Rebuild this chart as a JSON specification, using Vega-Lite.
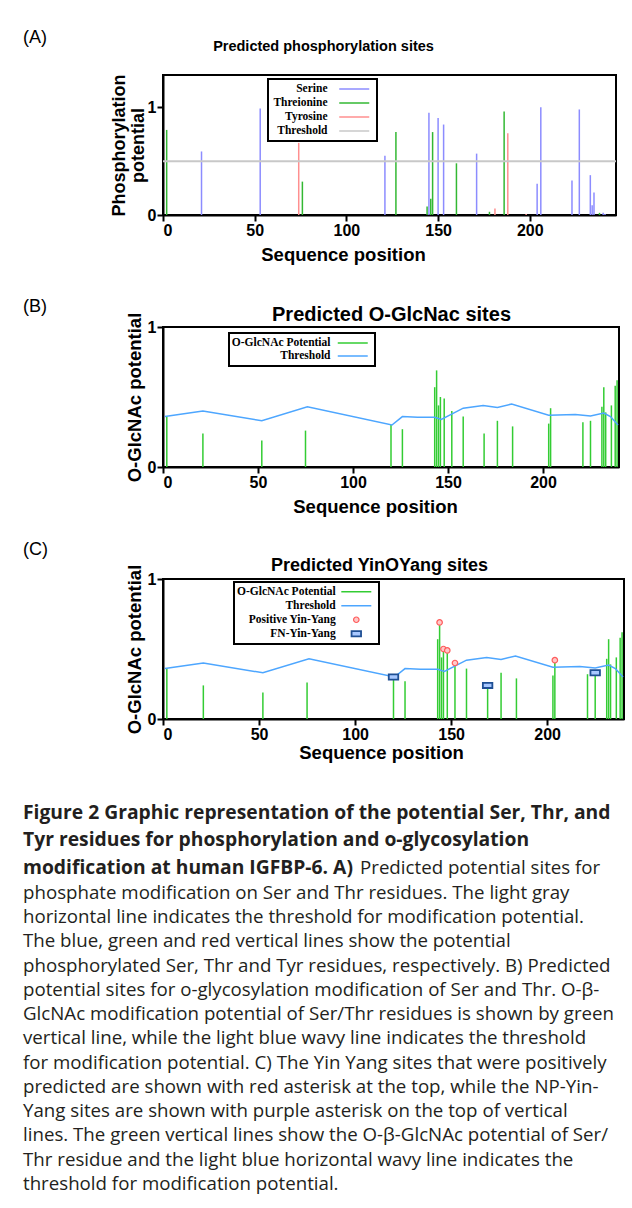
{
  "$schema": "https://vega.github.io/schema/vega-lite/v6.json",
  "background": "white",
  "padding": {"left": 22, "top": 28, "right": 4, "bottom": 4},
  "bounds": "flush",
  "spacing": 112,
  "resolve": {"scale": {"color": "independent"}, "legend": {"color": "independent"}},
  "config": {
    "font": "Liberation Sans",
    "view": {"stroke": "black", "strokeWidth": 2},
    "axis": {"grid": false, "domainColor": "black", "domainWidth": 2, "tickColor": "black", "tickWidth": 2, "tickSize": 6,
      "labelFont": "Liberation Sans", "labelFontWeight": "bold", "labelFontSize": 16, "labelColor": "black", "labelPadding": 1,
      "titleFont": "Liberation Sans", "titleFontWeight": "bold", "titleFontSize": 18.5, "titleColor": "black"},
    "title": {"font": "Liberation Sans", "fontSize": 18, "fontWeight": "normal", "color": "black", "anchor": "start", "frame": "group", "offset": 0},
    "legend": {"orient": "none", "title": null, "symbolType": "M-3,0H3", "symbolStrokeWidth": 1.5, "symbolSize": 100,
      "labelAlign": "right", "labelFont": "Liberation Serif", "labelFontWeight": "bold", "labelFontSize": 11.5, "labelColor": "black",
      "strokeColor": "black", "strokeWidth": 2, "fillColor": "white", "padding": 4, "rowPadding": 2, "labelLimit": 300}
  },
  "datasets": {
    "phos": [
      {"pos": 2, "potential": 0.79, "residue": "Threionine"},
      {"pos": 21, "potential": 0.59, "residue": "Serine"},
      {"pos": 53, "potential": 0.99, "residue": "Serine"},
      {"pos": 74, "potential": 0.67, "residue": "Tyrosine"},
      {"pos": 76, "potential": 0.31, "residue": "Threionine"},
      {"pos": 121, "potential": 0.55, "residue": "Serine"},
      {"pos": 127, "potential": 0.77, "residue": "Threionine"},
      {"pos": 144, "potential": 0.08, "residue": "Threionine"},
      {"pos": 145, "potential": 0.95, "residue": "Serine"},
      {"pos": 146, "potential": 0.15, "residue": "Threionine"},
      {"pos": 147, "potential": 0.77, "residue": "Threionine"},
      {"pos": 150, "potential": 0.90, "residue": "Serine"},
      {"pos": 153, "potential": 0.84, "residue": "Serine"},
      {"pos": 160, "potential": 0.48, "residue": "Threionine"},
      {"pos": 171, "potential": 0.57, "residue": "Serine"},
      {"pos": 178, "potential": 0.03, "residue": "Threionine"},
      {"pos": 181, "potential": 0.06, "residue": "Tyrosine"},
      {"pos": 186, "potential": 0.96, "residue": "Threionine"},
      {"pos": 188, "potential": 0.76, "residue": "Tyrosine"},
      {"pos": 198, "potential": 0.01, "residue": "Tyrosine"},
      {"pos": 204, "potential": 0.29, "residue": "Serine"},
      {"pos": 206, "potential": 1.0, "residue": "Serine"},
      {"pos": 223, "potential": 0.32, "residue": "Serine"},
      {"pos": 227, "potential": 0.98, "residue": "Serine"},
      {"pos": 233, "potential": 0.37, "residue": "Serine"},
      {"pos": 234, "potential": 0.09, "residue": "Serine"},
      {"pos": 235, "potential": 0.21, "residue": "Serine"},
      {"pos": 238, "potential": 0.02, "residue": "Threionine"},
      {"pos": 240, "potential": 0.02, "residue": "Serine"},
      {"pos": 241, "potential": 0.01, "residue": "Serine"}
    ],
    "glcnac": [
      {"pos": 2, "potential": 0.36}, {"pos": 21, "potential": 0.24}, {"pos": 52, "potential": 0.19},
      {"pos": 75, "potential": 0.26}, {"pos": 120, "potential": 0.30}, {"pos": 126, "potential": 0.27},
      {"pos": 143, "potential": 0.57}, {"pos": 144, "potential": 0.69}, {"pos": 145, "potential": 0.44},
      {"pos": 146, "potential": 0.50}, {"pos": 148, "potential": 0.49}, {"pos": 152, "potential": 0.40},
      {"pos": 158, "potential": 0.36}, {"pos": 169, "potential": 0.24}, {"pos": 176, "potential": 0.33},
      {"pos": 184, "potential": 0.29}, {"pos": 203, "potential": 0.31}, {"pos": 204, "potential": 0.42},
      {"pos": 221, "potential": 0.32}, {"pos": 225, "potential": 0.33}, {"pos": 231, "potential": 0.43},
      {"pos": 232, "potential": 0.57}, {"pos": 233, "potential": 0.39}, {"pos": 236, "potential": 0.44},
      {"pos": 238, "potential": 0.58}, {"pos": 239, "potential": 0.62}
    ],
    "threshold": [
      {"pos": 1, "potential": 0.36}, {"pos": 21, "potential": 0.40}, {"pos": 52, "potential": 0.33},
      {"pos": 76, "potential": 0.43}, {"pos": 120.5, "potential": 0.30}, {"pos": 126, "potential": 0.36},
      {"pos": 134, "potential": 0.355}, {"pos": 143, "potential": 0.355}, {"pos": 146.5, "potential": 0.34},
      {"pos": 158, "potential": 0.42}, {"pos": 168.5, "potential": 0.44}, {"pos": 176, "potential": 0.425},
      {"pos": 183.5, "potential": 0.45}, {"pos": 203, "potential": 0.37}, {"pos": 217, "potential": 0.375},
      {"pos": 225, "potential": 0.365}, {"pos": 232, "potential": 0.385}, {"pos": 235.5, "potential": 0.36},
      {"pos": 239.5, "potential": 0.30}
    ],
    "positive": [
      {"pos": 144, "potential": 0.69}, {"pos": 146, "potential": 0.50}, {"pos": 148, "potential": 0.49},
      {"pos": 152, "potential": 0.40}, {"pos": 204, "potential": 0.42}
    ],
    "fn": [
      {"pos": 120, "potential": 0.30}, {"pos": 169, "potential": 0.24}, {"pos": 225, "potential": 0.33}
    ],
    "caption": [
      {"line": 1, "part": "heading", "text": "Figure 2 Graphic representation of the potential Ser, Thr, and"},
      {"line": 2, "part": "heading", "text": "Tyr residues for phosphorylation and o-glycosylation"},
      {"line": 3, "part": "heading", "text": "modification at human IGFBP-6. A)"},
      {"line": 3, "part": "continued", "text": "Predicted potential sites for"},
      {"line": 4, "part": "body", "text": "phosphate modification on Ser and Thr residues. The light gray"},
      {"line": 5, "part": "body", "text": "horizontal line indicates the threshold for modification potential."},
      {"line": 6, "part": "body", "text": "The blue, green and red vertical lines show the potential"},
      {"line": 7, "part": "body", "text": "phosphorylated Ser, Thr and Tyr residues, respectively. B) Predicted"},
      {"line": 8, "part": "body", "text": "potential sites for o-glycosylation modification of Ser and Thr. O-β-"},
      {"line": 9, "part": "body", "text": "GlcNAc modification potential of Ser/Thr residues is shown by green"},
      {"line": 10, "part": "body", "text": "vertical line, while the light blue wavy line indicates the threshold"},
      {"line": 11, "part": "body", "text": "for modification potential. C) The Yin Yang sites that were positively"},
      {"line": 12, "part": "body", "text": "predicted are shown with red asterisk at the top, while the NP-Yin-"},
      {"line": 13, "part": "body", "text": "Yang sites are shown with purple asterisk on the top of vertical"},
      {"line": 14, "part": "body", "text": "lines. The green vertical lines show the O-β-GlcNAc potential of Ser/"},
      {"line": 15, "part": "body", "text": "Thr residue and the light blue horizontal wavy line indicates the"},
      {"line": 16, "part": "body", "text": "threshold for modification potential."}
    ]
  },
  "vconcat": [
    {
      "width": 453, "height": 140,
      "title": {"text": "(A)", "dx": -140, "dy": 13},
      "layer": [
        {
          "data": {"name": "phos"},
          "mark": {"type": "rule", "strokeWidth": 1.5},
          "encoding": {
            "x": {"field": "pos", "type": "quantitative", "scale": {"domain": [0, 247], "nice": false, "zero": false},
              "axis": {"orient": "bottom", "values": [0, 50, 100, 150, 200], "title": "Sequence position", "titlePadding": 7, "titleX": 180}},
            "y": {"field": "potential", "type": "quantitative", "scale": {"domain": [0, 1.3], "nice": false},
              "axis": {"values": [0, 1], "format": "d", "title": ["Phosphorylation", "potential"], "titleFontSize": 18, "titleLineHeight": 19, "titlePadding": 0}},
            "y2": {"datum": 0},
            "color": {"field": "residue", "type": "nominal",
              "scale": {"domain": ["Serine", "Threionine", "Tyrosine", "Threshold"], "range": ["#8c8cff", "#33b833", "#ff8f8f", "#c8c8c8"]},
              "legend": {"legendX": 105, "legendY": 4, "labelOffset": -32.75, "symbolOffset": 76.25,
                "encode": {"symbols": {"update": {"fill": {"value": "transparent"}, "strokeWidth": {"value": 1.5}}}}}}
          }
        },
        {
          "data": {"values": [{"residue": "Threshold", "potential": 0.5}]},
          "mark": {"type": "rule", "strokeWidth": 2},
          "encoding": {
            "y": {"field": "potential", "type": "quantitative"},
            "color": {"field": "residue", "type": "nominal"}
          }
        },
        {
          "data": {"values": [{"pos": 0}]},
          "mark": {"type": "rule", "opacity": 0},
          "encoding": {
            "x": {"field": "pos", "type": "quantitative",
              "axis": {"orient": "top", "domain": false, "ticks": false, "labels": false, "title": "Predicted phosphorylation sites", "titleFont": "Liberation Sans Narrow, Liberation Sans", "titleFontSize": 14.5, "titlePadding": 22, "titleX": 160}}
          }
        }
      ],
      "resolve": {"axis": {"x": "independent"}}
    },
    {
      "width": 456, "height": 140,
      "title": {"text": "(B)", "dx": -140, "dy": 16},
      "layer": [
        {
          "data": {"name": "glcnac"},
          "mark": {"type": "rule", "strokeWidth": 1.5},
          "encoding": {
            "x": {"field": "pos", "type": "quantitative", "scale": {"domain": [0, 240], "nice": false, "zero": false},
              "axis": {"orient": "bottom", "values": [0, 50, 100, 150, 200], "title": "Sequence position", "titlePadding": 7, "titleX": 212}},
            "y": {"field": "potential", "type": "quantitative", "scale": {"domain": [0, 1], "nice": false},
              "axis": {"values": [0, 1], "format": "d", "title": "O-GlcNAc potential", "titlePadding": 3}},
            "y2": {"datum": 0},
            "color": {"datum": "O-GlcNAc Potential",
              "scale": {"domain": ["O-GlcNAc Potential", "Threshold"], "range": ["#33cc33", "#4da6ff"]},
              "legend": {"legendX": 66, "legendY": 6, "labelOffset": -28.25, "symbolOffset": 113.75, "rowPadding": 1,
                "encode": {"symbols": {"update": {"fill": {"value": "transparent"}, "strokeWidth": {"value": 1.5}}}}}}
          }
        },
        {
          "data": {"name": "threshold"},
          "mark": {"type": "line", "strokeWidth": 1.5},
          "encoding": {
            "x": {"field": "pos", "type": "quantitative", "axis": null},
            "y": {"field": "potential", "type": "quantitative"},
            "color": {"datum": "Threshold"}
          }
        },
        {
          "data": {"values": [{"pos": 0}]},
          "mark": {"type": "rule", "opacity": 0},
          "encoding": {
            "x": {"field": "pos", "type": "quantitative",
              "axis": {"orient": "top", "domain": false, "ticks": false, "labels": false, "title": "Predicted O-GlcNac sites", "titleFontSize": 20, "titlePadding": 3}}
          }
        }
      ],
      "resolve": {"axis": {"x": "independent"}}
    },
    {
      "width": 461, "height": 140,
      "title": {"text": "(C)", "dx": -140, "dy": 7},
      "layer": [
        {
          "data": {"name": "glcnac"},
          "mark": {"type": "rule", "strokeWidth": 1.5},
          "encoding": {
            "x": {"field": "pos", "type": "quantitative", "scale": {"domain": [0, 240], "nice": false, "zero": false},
              "axis": {"orient": "bottom", "values": [0, 50, 100, 150, 200], "title": "Sequence position", "titlePadding": 1, "titleX": 218}},
            "y": {"field": "potential", "type": "quantitative", "scale": {"domain": [0, 1], "nice": false},
              "axis": {"values": [0, 1], "format": "d", "title": "O-GlcNAc potential", "titlePadding": 3}},
            "y2": {"datum": 0},
            "color": {"datum": "O-GlcNAc Potential",
              "scale": {"domain": ["O-GlcNAc Potential", "Threshold", "Positive Yin-Yang", "FN-Yin-Yang"], "range": ["#33cc33", "#4da6ff", "#ff5c5c", "#1f4f94"]},
              "legend": {"legendX": 71, "legendY": 3, "labelOffset": -26.35, "symbolOffset": 112.55, "rowPadding": 1,
                "encode": {"symbols": {"update": {
                  "shape": {"signal": "datum.label == 'Positive Yin-Yang' ? 'circle' : datum.label == 'FN-Yin-Yang' ? 'M-1,-0.55H1V0.55H-1Z' : 'M-3,0H3'"},
                  "size": {"signal": "datum.label == 'Positive Yin-Yang' ? 30 : datum.label == 'FN-Yin-Yang' ? 90 : 100"},
                  "strokeWidth": {"signal": "datum.label == 'FN-Yin-Yang' ? 1.8 : datum.label == 'Positive Yin-Yang' ? 1.2 : 1.5"},
                  "fill": {"signal": "datum.label == 'Positive Yin-Yang' ? '#ffc8c8' : datum.label == 'FN-Yin-Yang' ? '#a8c8ff' : 'transparent'"}
                }}}}}
          }
        },
        {
          "data": {"name": "threshold"},
          "mark": {"type": "line", "strokeWidth": 1.5},
          "encoding": {
            "x": {"field": "pos", "type": "quantitative", "axis": null},
            "y": {"field": "potential", "type": "quantitative"},
            "color": {"datum": "Threshold"}
          }
        },
        {
          "data": {"name": "positive"},
          "mark": {"type": "point", "shape": "circle", "size": 30, "filled": false, "fill": "#ffc8c8", "strokeWidth": 1.2, "opacity": 1},
          "encoding": {
            "x": {"field": "pos", "type": "quantitative", "axis": null},
            "y": {"field": "potential", "type": "quantitative"},
            "color": {"datum": "Positive Yin-Yang"}
          }
        },
        {
          "data": {"name": "fn"},
          "mark": {"type": "point", "shape": "M-1,-0.55H1V0.55H-1Z", "size": 90, "filled": false, "fill": "#a8c8ff", "strokeWidth": 1.8, "opacity": 1},
          "encoding": {
            "x": {"field": "pos", "type": "quantitative", "axis": null},
            "y": {"field": "potential", "type": "quantitative"},
            "color": {"datum": "FN-Yin-Yang"}
          }
        },
        {
          "data": {"values": [{"pos": 0}]},
          "mark": {"type": "rule", "opacity": 0},
          "encoding": {
            "x": {"field": "pos", "type": "quantitative",
              "axis": {"orient": "top", "domain": false, "ticks": false, "labels": false, "title": "Predicted YinOYang sites", "titleFontSize": 18, "titlePadding": 5, "titleX": 216}}
          }
        }
      ],
      "resolve": {"axis": {"x": "independent"}}
    },
    {
      "width": 450, "height": 363.5,
      "view": {"stroke": null},
      "data": {"name": "caption"},
      "encoding": {
        "x": {"datum": 0, "type": "quantitative", "scale": {"domain": [0, 1]}, "axis": null},
        "text": {"field": "text", "type": "nominal"}
      },
      "layer": [
        {
          "transform": [{"filter": "datum.part == 'heading'"}],
          "mark": {"type": "text", "align": "left", "baseline": "middle", "dx": -140, "dy": -18, "font": "Open Sans", "fontSize": 19.3, "fontWeight": "bold", "color": "#231f20"},
          "encoding": {"y": {"field": "line", "type": "quantitative", "scale": {"domain": [1, 14.22], "reverse": true, "nice": false, "zero": false}, "axis": null}}
        },
        {
          "transform": [{"filter": "datum.part == 'continued'"}],
          "mark": {"type": "text", "align": "left", "baseline": "middle", "dx": 197, "dy": -18, "font": "Open Sans", "fontSize": 18.7, "fontWeight": "normal", "color": "#231f20"},
          "encoding": {"y": {"field": "line", "type": "quantitative", "scale": {"domain": [1, 14.22], "reverse": true, "nice": false, "zero": false}, "axis": null}}
        },
        {
          "transform": [{"filter": "datum.part == 'body'"}],
          "mark": {"type": "text", "align": "left", "baseline": "middle", "dx": -140, "dy": -10.7, "font": "Open Sans", "fontSize": 18.7, "fontWeight": "normal", "color": "#231f20"},
          "encoding": {"y": {"field": "line", "type": "quantitative", "scale": {"domain": [1, 16], "reverse": true, "nice": false, "zero": false}, "axis": null}}
        }
      ],
      "resolve": {"scale": {"y": "independent"}}
    }
  ]
}
